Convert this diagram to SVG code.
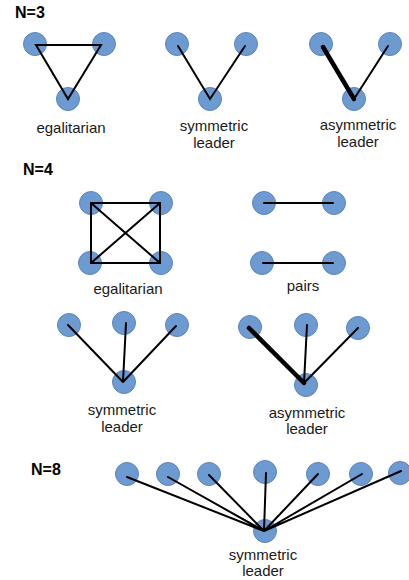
<svg xmlns="http://www.w3.org/2000/svg" width="409" height="580" viewBox="0 0 409 580">
<style>
.n{fill:#6d9bd1;stroke:#5a86bd;stroke-width:1}
.e{stroke:#000;stroke-width:2;stroke-linecap:round;fill:none}
.t{stroke:#000;stroke-width:4.5;stroke-linecap:round;fill:none}
.l{font-family:"Liberation Sans",Arial,sans-serif;font-size:15px;fill:#1a1a1a;text-anchor:middle}
.h{font-family:"Liberation Sans",Arial,sans-serif;font-size:16px;font-weight:bold;fill:#000}
</style>
<rect width="409" height="580" fill="#fff"/>
<g id="titles">
<text class="h" x="15" y="18">N=3</text>
<text class="h" x="23" y="175">N=4</text>
<text class="h" x="31" y="475">N=8</text>
</g>
<g id="nodes">
<g id="n3e"><circle class="n" cx="35" cy="44" r="11.5"/><circle class="n" cx="104" cy="44" r="11.5"/><circle class="n" cx="68" cy="99" r="11.5"/></g>
<g id="n3s"><circle class="n" cx="177" cy="44" r="11.5"/><circle class="n" cx="246" cy="44" r="11.5"/><circle class="n" cx="210" cy="99" r="11.5"/></g>
<g id="n3a"><circle class="n" cx="321" cy="44" r="11.5"/><circle class="n" cx="390" cy="44" r="11.5"/><circle class="n" cx="354" cy="99" r="11.5"/></g>
<g id="n4e"><circle class="n" cx="91" cy="203" r="11.5"/><circle class="n" cx="161" cy="203" r="11.5"/><circle class="n" cx="90" cy="263" r="11.5"/><circle class="n" cx="161" cy="263" r="11.5"/></g>
<g id="n4p"><circle class="n" cx="264" cy="203" r="11.5"/><circle class="n" cx="334" cy="203" r="11.5"/><circle class="n" cx="262" cy="263" r="11.5"/><circle class="n" cx="334" cy="263" r="11.5"/></g>
<g id="n4s"><circle class="n" cx="69" cy="325" r="11.5"/><circle class="n" cx="124" cy="323" r="11.5"/><circle class="n" cx="177" cy="325" r="11.5"/><circle class="n" cx="124" cy="382" r="11.5"/></g>
<g id="n4a"><circle class="n" cx="250" cy="327" r="11.5"/><circle class="n" cx="306" cy="325" r="11.5"/><circle class="n" cx="358" cy="328" r="11.5"/><circle class="n" cx="306" cy="385" r="11.5"/></g>
<g id="n8s"><circle class="n" cx="127" cy="474" r="11.5"/><circle class="n" cx="168" cy="474" r="11.5"/><circle class="n" cx="209" cy="474" r="11.5"/><circle class="n" cx="265" cy="472" r="11.5"/><circle class="n" cx="318" cy="474" r="11.5"/><circle class="n" cx="361" cy="474" r="11.5"/><circle class="n" cx="400" cy="473" r="11.5"/><circle class="n" cx="265" cy="531" r="11.5"/></g>
</g>
<g id="connectors">
<path class="e" d="M36 45H101L68 99Z" stroke-linejoin="miter"/>
<path class="e" d="M178 46L210 99L245 46"/>
<path class="t" d="M323 47L354 99"/>
<path class="e" d="M388 46L354 99"/>
<path class="e" d="M91 203H160V263H91Z M91 203L160 263 M160 203L91 263"/>
<path class="e" d="M264 203H333 M263 263H333"/>
<path class="e" d="M68 325L123 382 M126 323L123 382 M176 326L123 382"/>
<path class="t" d="M249 328L304 383"/>
<path class="e" d="M307 325L304 383 M358 328L304 383"/>
<path class="e" d="M127 477L264 531 M168 477L264 531 M209 475L264 531 M266 473L264 531 M318 474L264 531 M362 474L264 531 M401 471L264 531"/>
</g>
<g id="labels">
<text class="l" x="71" y="133">egalitarian</text>
<text class="l" x="214" y="131">symmetric</text>
<text class="l" x="214" y="148">leader</text>
<text class="l" x="358" y="130">asymmetric</text>
<text class="l" x="358" y="147">leader</text>
<text class="l" x="128" y="294">egalitarian</text>
<text class="l" x="303" y="291">pairs</text>
<text class="l" x="122" y="415">symmetric</text>
<text class="l" x="122" y="432">leader</text>
<text class="l" x="307" y="418">asymmetric</text>
<text class="l" x="307" y="434">leader</text>
<text class="l" x="263" y="560">symmetric</text>
<text class="l" x="263" y="576">leader</text>
</g>
</svg>
